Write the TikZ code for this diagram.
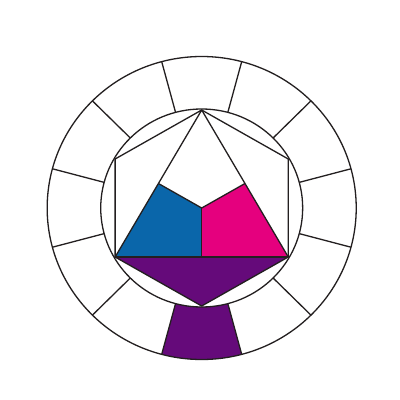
\documentclass[tikz,border=0pt]{standalone}
\usetikzlibrary{calc}
\definecolor{ittenblue}{HTML}{0A66AA}
\definecolor{ittenmagenta}{HTML}{E5007E}
\definecolor{ittenpurple}{HTML}{650A7A}
\definecolor{ink}{HTML}{231F20}
\tikzset{
  wheelline/.style={draw=ink, line width=1.3pt, line join=round},
}
\begin{document}
\begin{tikzpicture}
\useasboundingbox (0,0) rectangle (400pt,400pt);
\fill[white] (0,0) rectangle (400pt,400pt);
\begin{scope}[shift={(201.7pt,192pt)}, x=1.02pt, y=1pt]
  % named points
  \coordinate (O) at (0,0);
  \coordinate (T) at (90:98);
  \coordinate (UL) at (150:98);
  \coordinate (LL) at (210:98);
  \coordinate (B) at (270:98);
  \coordinate (LR) at (330:98);
  \coordinate (UR) at (30:98);
  \coordinate (ML) at ($(T)!0.5!(LL)$);
  \coordinate (MR) at ($(T)!0.5!(LR)$);
  \coordinate (BC) at ($(LL)!0.5!(LR)$);
  % purple ring segment
  \fill[ittenpurple] (255:99) arc[start angle=255, end angle=285, radius=99]
    -- (285:151.5) arc[start angle=285, end angle=255, radius=151.5] -- cycle;
  % fills
  \fill[ittenblue] (LL) -- (ML) -- (O) -- (BC) -- cycle;
  \fill[ittenmagenta] (LR) -- (MR) -- (O) -- (BC) -- cycle;
  \fill[ittenpurple] (LL) -- (LR) -- (B) -- cycle;
  % circles
  \draw[wheelline] (O) circle[radius=151.5];
  \draw[wheelline] (O) circle[radius=99];
  % radial lines
  \foreach \a in {15,45,...,345} {
    \draw[wheelline] (\a:99) -- (\a:151.5);
  }
  % hexagon and inner figure
  \draw[wheelline] (T) -- (UR) -- (LR) -- (B) -- (LL) -- (UL) -- cycle;
  \draw[wheelline] (LL) -- (T) -- (LR);
  \draw[wheelline] (LL) -- (LR);
  \draw[wheelline] (ML) -- (O) -- (MR);
  \draw[wheelline] (O) -- (BC);
\end{scope}
\end{tikzpicture}
\end{document}
